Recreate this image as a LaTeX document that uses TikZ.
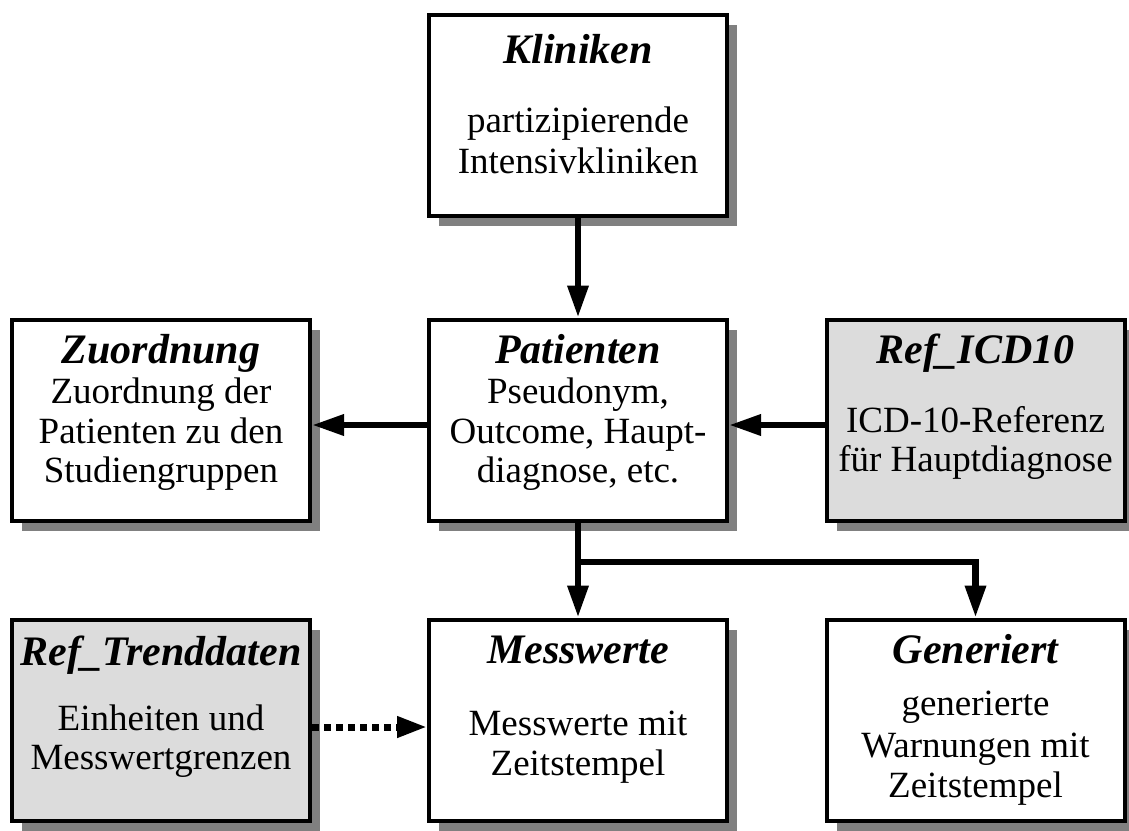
\documentclass[tikz,border=0pt]{standalone}
\usepackage{fontspec}
\setmainfont{Liberation Serif}
\usetikzlibrary{arrows.meta,shadows}
\definecolor{shadowgray}{HTML}{808080}
\definecolor{reffill}{HTML}{DCDCDC}
\tikzset{
  entity/.style={draw, line width=4pt, fill=white, minimum width=298pt,
    minimum height=201pt, inner sep=0pt,
    drop shadow={shadow xshift=10pt, shadow yshift=-10pt, fill=shadowgray, opacity=1}},
  refentity/.style={entity, fill=reffill},
  title/.style={font=\fontsize{42}{48}\selectfont\bfseries\itshape, anchor=base, inner sep=0pt},
  body/.style={font=\fontsize{37}{41}\selectfont, anchor=base, inner sep=0pt},
  link/.style={line width=6.5pt, -{Triangle[length=32pt, width=20pt]}},
  reflink/.style={line width=7pt, dash pattern=on 7pt off 5pt,
    -{Triangle[length=30pt, width=20pt]}}
}
\begin{document}
\begin{tikzpicture}[x=1pt, y=-1pt]
\useasboundingbox (0,0) rectangle (1129,830);

% entity boxes
\node[entity]    (kli) at (578,115.5) {};
\node[entity]    (pat) at (578,420) {};
\node[entity]    (zuo) at (161,420) {};
\node[refentity] (icd) at (975.5,420) {};
\node[refentity] (trd) at (161,720) {};
\node[entity]    (mes) at (578,720) {};
\node[entity]    (gen) at (975.5,720) {};

% Kliniken
\node[title] (kli-t) at (578,63) {Kliniken};
\node[body] (kli-1) at (578,132) {partizipierende};
\node[body] (kli-2) at (578,173) {Intensivkliniken};

% Patienten
\node[title] (pat-t) at (578,363) {Patienten};
\node[body] (pat-1) at (578,403) {Pseudonym,};
\node[body] (pat-2) at (578,443) {Outcome, Haupt-};
\node[body] (pat-3) at (578,482) {diagnose, etc.};

% Zuordnung
\node[title] (zuo-t) at (161,363) {Zuordnung};
\node[body] (zuo-1) at (161,403) {Zuordnung der};
\node[body] (zuo-2) at (161,443) {Patienten zu den};
\node[body] (zuo-3) at (161,482) {Studiengruppen};

% Ref_ICD10
\node[title] (icd-t) at (975.5,363) {Ref\_ICD10};
\node[body] (icd-1) at (975.5,432) {ICD-10-Referenz};
\node[body] (icd-2) at (975.5,471) {für Hauptdiagnose};

% Ref_Trenddaten
\node[title] (trd-t) at (161,665) {Ref\_Trenddaten};
\node[body] (trd-1) at (161,730) {Einheiten und};
\node[body] (trd-2) at (161,769) {Messwertgrenzen};

% Messwerte
\node[title] (mes-t) at (578,663) {Messwerte};
\node[body] (mes-1) at (578,735) {Messwerte mit};
\node[body] (mes-2) at (578,775) {Zeitstempel};

% Generiert
\node[title] (gen-t) at (975.5,663) {Generiert};
\node[body] (gen-1) at (975.5,715) {generierte};
\node[body] (gen-2) at (975.5,757) {Warnungen mit};
\node[body] (gen-3) at (975.5,797) {Zeitstempel};

% connector rows
\coordinate (midrow) at (0,425);
\coordinate (fork) at (0,562);
\coordinate (lowrow) at (0,727);

% relations
\draw[link] (kli.south) -- (pat.north);
\draw[link] (pat.west |- midrow) -- (zuo.east |- midrow);
\draw[link] (icd.west |- midrow) -- (pat.east |- midrow);
\draw[link] (pat.south) -- (mes.north);
\draw[link] (pat.south |- fork) -| (gen.north);
\draw[reflink] (trd.east |- lowrow) -- (mes.west |- lowrow);
\end{tikzpicture}
\end{document}
